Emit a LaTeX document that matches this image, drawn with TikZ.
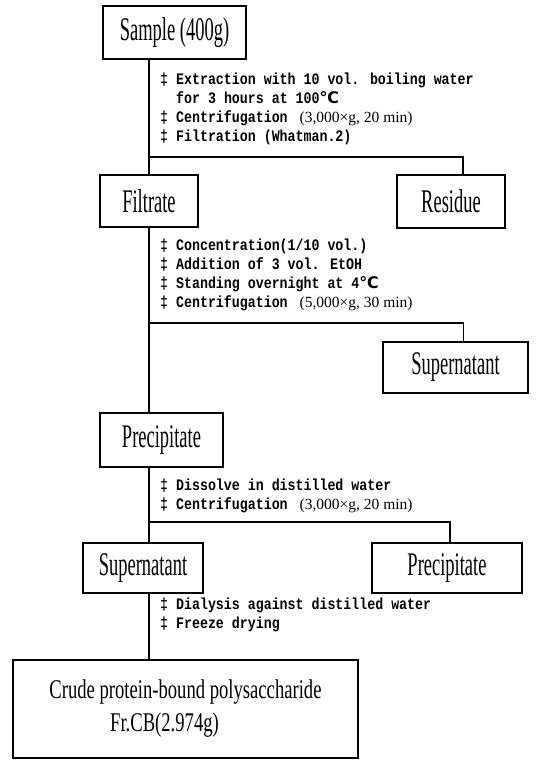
\documentclass[tikz,border=0pt]{standalone}
\usepackage{fontspec}
\setmainfont{Liberation Serif}
\newfontfamily\boxfont{Liberation Serif}[FakeStretch=0.56]
\newfontfamily\crudefont{Liberation Serif}[FakeStretch=0.69]
\newfontfamily\stepfont{Liberation Mono}[FakeStretch=0.83]
\newfontfamily\symfont{DejaVu Sans}
\usetikzlibrary{positioning}

\newcommand\degC{{\symfont ℃}}
\newcommand\runcond[1]{\hspace{12pt}{\rmfamily\mdseries\fontsize{15.5}{19}\selectfont #1}}

\begin{document}
\begin{tikzpicture}[x=1pt, y=-1pt]
    \tikzstyle{block} = [rectangle, draw, line width=1.6pt, inner sep=0pt,
    font=\boxfont\fontsize{33}{34}\selectfont]
    \tikzstyle{steps} = [anchor=base west, inner sep=0pt, align=left,
    font=\stepfont\bfseries\fontsize{16}{19}\selectfont]
    \tikzstyle{line} = [draw, line width=1.6pt]
    \useasboundingbox (0,0) rectangle (538,760);
    % boxes
    \node [block, minimum width=143pt, minimum height=53pt] (sample) at (174.5,32.5) {Sample (400g)};
    \node [block, minimum width=98pt, minimum height=52pt] (filtrate) at (149,201) {Filtrate};
    \node [block, minimum width=108pt, minimum height=53pt] (residue) at (451,201.5) {Residue};
    \node [block, minimum width=145pt, minimum height=51pt] (sup1) at (455.5,367.5) {Supernatant};
    \node [block, minimum width=123pt, minimum height=54pt] (prec1) at (161.5,440) {Precipitate};
    \node [block, minimum width=120pt, minimum height=50pt] (sup2) at (143,568) {Supernatant};
    \node [block, minimum width=150pt, minimum height=50pt] (prec2) at (447,568) {Precipitate};
    \node [block, minimum width=345pt, minimum height=98pt, align=center,
    font=\crudefont\fontsize{27}{33}\selectfont] (crude) at (185.5,709)
    {Crude protein-bound polysaccharide\\ Fr.CB(2.974g)\hspace*{42pt}};
    % treatments (placed at the baseline of the last line)
    \node [steps] (step1) at (160,141.5) {‡ Extraction with 10 vol. boiling water\\
    \hspace*{16pt}for 3 hours at 100\degC\\
    ‡ Centrifugation\runcond{(3,000×g, 20 min)}\\
    ‡ Filtration (Whatman.2)};
    \node [steps] (step2) at (160,307.5) {‡ Concentration(1/10 vol.)\\
    ‡ Addition of 3 vol. EtOH\\
    ‡ Standing overnight at 4\degC\\
    ‡ Centrifugation\runcond{(5,000×g, 30 min)}};
    \node [steps] (step3) at (160,509.5) {‡ Dissolve in distilled water\\
    ‡ Centrifugation\runcond{(3,000×g, 20 min)}};
    \node [steps] (step4) at (160,628.5) {‡ Dialysis against distilled water\\
    ‡ Freeze drying};
    % connectors
    \coordinate (spine) at (149,0);
    \coordinate (split1) at (149,157);
    \coordinate (split2) at (149,323);
    \coordinate (split3) at (149,522);
    \path [line] (sample.south -| spine) -- (filtrate.north -| spine);
    \path [line] (split1) -| ([xshift=12pt]residue.north);
    \path [line] (filtrate.south -| spine) -- (prec1.north -| spine);
    \path [line] (split2) -| ([xshift=8pt]sup1.north);
    \path [line] (prec1.south -| spine) -- (sup2.north -| spine);
    \path [line] (split3) -| ([xshift=3pt]prec2.north);
    \path [line] (sup2.south -| spine) -- (crude.north -| spine);
\end{tikzpicture}
\end{document}
